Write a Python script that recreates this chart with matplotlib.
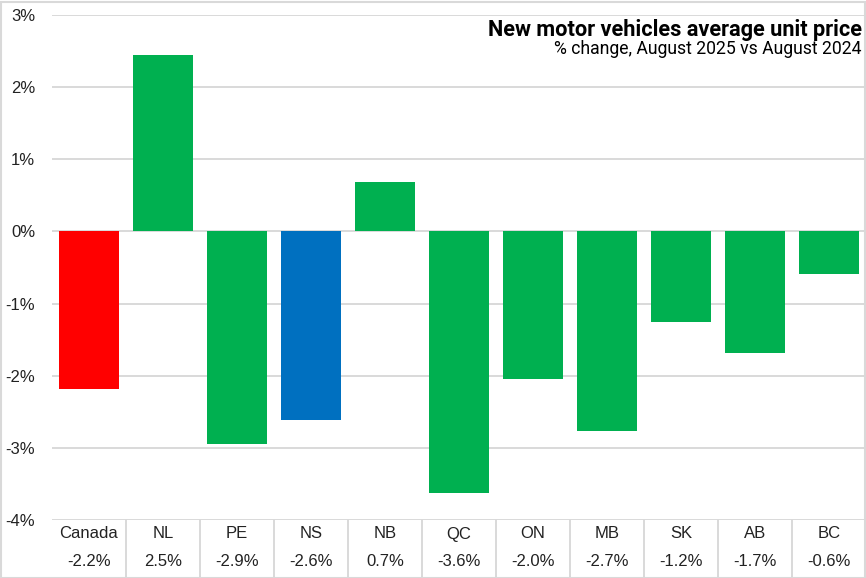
import matplotlib
matplotlib.use("Agg")
import matplotlib.pyplot as plt
from matplotlib.patches import Rectangle
import matplotlib.transforms as mtransforms

categories = ["Canada", "NL", "PE", "NS", "NB", "QC", "ON", "MB", "SK", "AB", "BC"]
values = [-2.18, 2.44, -2.95, -2.61, 0.68, -3.62, -2.05, -2.76, -1.26, -1.69, -0.59]
value_labels = ["-2.2%", "2.5%", "-2.9%", "-2.6%", "0.7%", "-3.6%", "-2.0%", "-2.7%", "-1.2%", "-1.7%", "-0.6%"]
colors = ["#FF0000", "#00B050", "#00B050", "#0070C0", "#00B050", "#00B050",
          "#00B050", "#00B050", "#00B050", "#00B050", "#00B050"]
yticks = [-4, -3, -2, -1, 0, 1, 2, 3]
ytick_labels = ["-4%", "-3%", "-2%", "-1%", "0%", "1%", "2%", "3%"]
title = "New motor vehicles average unit price"
subtitle = "% change, August 2025 vs August 2024"

W, H = 866, 578
fig = plt.figure(figsize=(W / 100, H / 100), dpi=100)
grid_color = "#D9D9D9"
txt_color = "#222222"

ax = fig.add_axes([52 / W, 1 - 520 / H, 814 / W, 505 / H])
x = list(range(len(categories)))
ax.bar(x, values, width=0.82, color=colors, zorder=3)
ax.set_xlim(-0.5, len(categories) - 0.5)
ax.set_ylim(-4, 3)
ax.set_yticks(yticks)
ax.set_yticklabels(ytick_labels, fontsize=12, family="Liberation Sans", color=txt_color)
ax.tick_params(axis="y", length=0, pad=12)
ax.set_xticks([])
for s in ax.spines.values():
    s.set_visible(False)
for t in yticks:
    ax.axhline(t, color=grid_color, lw=1.4, zorder=1)

# table below
trans = mtransforms.blended_transform_factory(ax.transData, ax.transAxes)
tbl_bottom = -(578 - 520) / 505
for i in range(1, len(categories)):
    ax.plot([i - 0.5, i - 0.5], [0, tbl_bottom], transform=trans, color=grid_color,
            lw=1.4, clip_on=False, zorder=1)
for i, (c, v) in enumerate(zip(categories, value_labels)):
    ax.text(i, -(534 - 520) / 505, c, transform=trans, ha="center", va="center",
            fontsize=12, family="Liberation Sans", color=txt_color)
    ax.text(i, -(562 - 520) / 505, v, transform=trans, ha="center", va="center",
            fontsize=12, family="Liberation Sans", color=txt_color)

# title
fig.text(862 / W, 1 - 30 / H, title, ha="right", va="center", fontsize=15.7,
         fontweight="bold", family="Roboto", color="#000000")
fig.text(862 / W, 1 - 49 / H, subtitle, ha="right", va="center", fontsize=12.7,
         family="Roboto", color="#000000")

# figure border
fig.patches.append(Rectangle((0.5 / W, 0.5 / H), (W - 2) / W, (H - 2) / H,
                             transform=fig.transFigure, fill=False,
                             edgecolor=grid_color, lw=1.5))

fig.savefig("out.png", dpi=100)
